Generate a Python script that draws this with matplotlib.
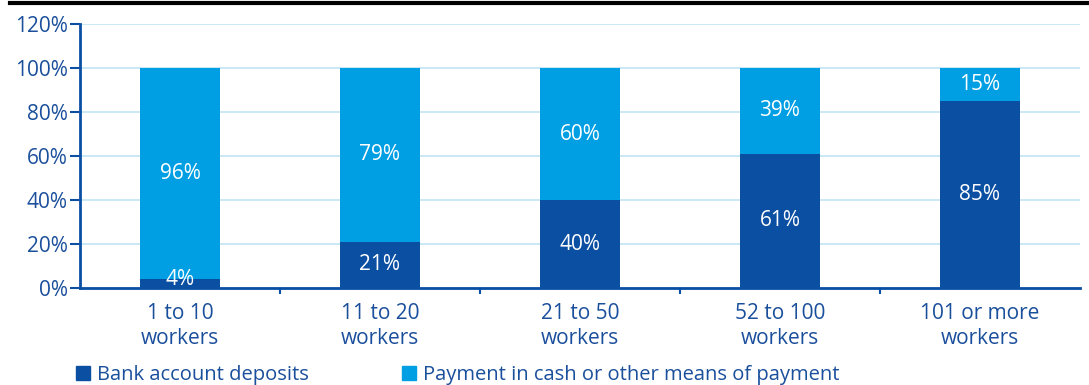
import numpy as np
import matplotlib.pyplot as plt
from matplotlib.lines import Line2D
from matplotlib.patches import Patch

categories = ['1 to 10\nworkers', '11 to 20\nworkers', '21 to 50\nworkers',
              '52 to 100\nworkers', '101 or more\nworkers']
bank = [4, 21, 40, 61, 85]
cash = [96, 79, 60, 39, 15]
series_names = ['Bank account deposits', 'Payment in cash or other means of payment']

dark = '#0b4fa3'
light = '#009fe3'
grid_c = '#c6e6f7'
text_c = '#1a4f9c'
fs = 15

plt.rcParams['font.family'] = ['Open Sans', 'DejaVu Sans']

fig = plt.figure(figsize=(10.89, 3.85), dpi=100)
ax = fig.add_axes([80 / 1089, 1 - 288 / 385, 1000 / 1089, 264 / 385])

x = np.arange(len(categories))
ax.bar(x, bank, width=0.4, color=dark, zorder=3)
ax.bar(x, cash, width=0.4, bottom=bank, color=light, zorder=3)

for i in range(len(categories)):
    ax.text(x[i], max(bank[i] / 2, 4), f'{bank[i]}%', ha='center', va='center',
            color='white', fontsize=fs, zorder=4)
    ax.text(x[i], bank[i] + cash[i] / 2, f'{cash[i]}%', ha='center', va='center',
            color='white', fontsize=fs, zorder=4)

ax.set_xlim(-0.5, len(categories) - 0.5)
ax.set_ylim(0, 120)
ax.set_yticks(range(0, 121, 20))
ax.set_yticklabels([f'{v}%' for v in range(0, 121, 20)])
ax.yaxis.grid(True, color=grid_c, linewidth=1.3, zorder=0)

# category labels centred, tick marks between groups
ax.set_xticks(x)
ax.set_xticklabels(categories, linespacing=1.25)
ax.set_xticks(x[:-1] + 0.5, minor=True)
ax.tick_params(axis='x', which='major', length=0, pad=11, labelsize=fs, labelcolor=text_c)
ax.tick_params(axis='x', which='minor', length=4, width=1.5, color=dark)
ax.tick_params(axis='y', length=7, width=1.5, color=dark, labelsize=fs, labelcolor=text_c, pad=2)

for s in ['top', 'right']:
    ax.spines[s].set_visible(False)
for s in ['left', 'bottom']:
    ax.spines[s].set_color(dark)
    ax.spines[s].set_linewidth(2)

handles = [Patch(color=dark), Patch(color=light)]
fig.legend(handles, series_names, loc='center left', bbox_to_anchor=(66 / 1089, 1 - 375 / 385),
           ncol=2, frameon=False, fontsize=14.5, labelcolor=text_c, handlelength=0.7,
           handleheight=0.7, handletextpad=0.35, columnspacing=4.6, borderpad=0)

fig.add_artist(Line2D([10 / 1089, 1], [1 - 3 / 385, 1 - 3 / 385], color='black', linewidth=3))

fig.savefig('out.png', dpi=100)
